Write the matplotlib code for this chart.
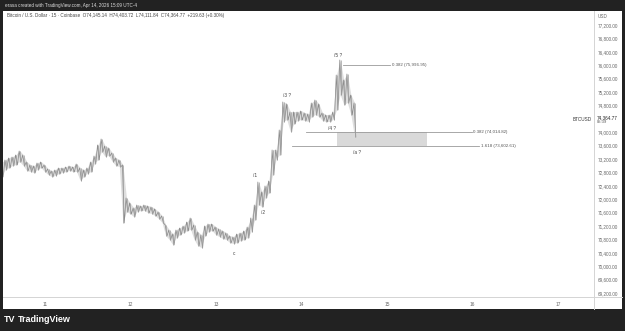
import numpy as np
import matplotlib.pyplot as plt
from matplotlib.patches import Rectangle
from matplotlib.lines import Line2D

plt.rcParams['font.family'] = ['Liberation Sans', 'DejaVu Sans']

# BTCUSD, hourly high/low (Apr 10 12:00 -> Apr 14 15:00)
start_day = 10.5
highs = [73081, 73170, 73230, 73260, 73320, 73439, 73320, 73111, 73021, 72991,
         73081, 73111, 73021, 72902, 72842, 72872, 72932, 72932, 72961, 72991,
         72961, 73051, 72932, 72872, 72932, 73111, 73290, 73618, 73797, 73588,
         73528, 73379, 73230, 73170, 73021, 72036, 71887, 71737, 71827, 71797,
         71827, 71797, 71767, 71708, 71618, 71499, 71230, 71081, 70961, 71081,
         71140, 71200, 71319, 71439, 71230, 71021, 70932, 71200, 71260, 71260,
         71170, 71110, 71051, 70991, 70902, 70872, 70961, 70991, 71051, 71170,
         71439, 71827, 72513, 72215, 72394, 72543, 73469, 73469, 74066, 74902,
         74842, 74603, 74603, 74603, 74633, 74573, 74543, 74872, 74961, 74842,
         74573, 74513, 74513, 74603, 75707, 76155, 75558, 75737, 75110, 74872]
lows = [72663, 72872, 72932, 72991, 73021, 73111, 72991, 72842, 72812, 72782,
        72872, 72932, 72812, 72722, 72663, 72693, 72752, 72782, 72812, 72842,
        72812, 72812, 72543, 72663, 72752, 72812, 73051, 73170, 73409, 73260,
        73290, 73111, 72991, 72961, 71290, 71618, 71558, 71469, 71618, 71648,
        71648, 71588, 71558, 71499, 71409, 71290, 70902, 70782, 70633, 70842,
        70932, 70991, 71051, 71081, 70782, 70603, 70543, 70902, 71021, 71051,
        70932, 70872, 70812, 70782, 70693, 70663, 70693, 70752, 70782, 70842,
        71021, 71379, 71827, 71767, 72036, 72185, 72722, 73170, 73320, 74305,
        74364, 74006, 74245, 74334, 74364, 74334, 74305, 74454, 74513, 74454,
        74334, 74305, 74305, 74364, 74663, 75110, 74812, 74872, 74513, 73857]
last_price = 74364.77

# fib levels
fib_top = 75996.95
box_top = 74014.82
box_bottom = 73602.61

price_ticks = list(range(69200, 77201, 400))
day_ticks = [11, 12, 13, 14, 15, 16, 17]

waves = ['c', '/1', '/2', '/3 ?', '/4 ?', '/5 ?', '/a ?']
wave_pos = [(13.21, 70394), (13.456, 72693), (13.55, 71618), (13.83, 75110),
            (14.357, 74125), (14.427, 76304), (14.649, 73409)]

header = ('Bitcoin / U.S. Dollar · 15 · Coinbase  O74,145.14  H74,403.72  '
          'L74,111.84  C74,364.77  +219.63 (+0.30%)')

W, H = 625, 331
fig = plt.figure(figsize=(W / 100, H / 100), dpi=100, facecolor='#222222')
fig.patches.append(Rectangle((3 / W, 1 - 309 / H), 619 / W, 298 / H,
                             transform=fig.transFigure, facecolor='white', zorder=-5))
ax = fig.add_axes([3 / W, 1 - 297 / H, 591 / W, 286 / H])
ax.set_zorder(2)
ax.patch.set_alpha(0)

t = start_day + np.arange(len(highs)) / 24
ax.fill_between(t, lows, highs, facecolor='#dedede', lw=0)
# bars drawn as a high/low zigzag so it reads like the dense 15m candles
zx = np.column_stack([t - 1 / 96, t + 1 / 96]).ravel()
zy = np.column_stack([highs, lows]).ravel()
ax.plot(zx, zy, color='#8c8c8c', lw=0.55)
ax.vlines(t, lows, highs, color='#a0a0a0', lw=0.5)

# fib lines + box
ax.plot([14.485, 15.035], [fib_top, fib_top], color='#9a9a9a', lw=0.6)
ax.plot([14.053, 15.994], [box_top, box_top], color='#9a9a9a', lw=0.6)
ax.plot([13.889, 16.076], [box_bottom, box_bottom], color='#9a9a9a', lw=0.6)
ax.add_patch(Rectangle((14.415, box_bottom), 15.468 - 14.415, box_top - box_bottom,
                       facecolor='#d9d9d9', edgecolor='none'))
ax.text(15.06, fib_top, f'0.382 ({fib_top:,.2f})', fontsize=3.2, va='center', color='#555')
ax.text(16.006, box_top, f'0.382 ({box_top:,.2f})', fontsize=3.2, va='center', color='#555')
ax.text(16.10, box_bottom, f'1.618 ({box_bottom:,.2f})', fontsize=3.2, va='center', color='#555')

for lab, (x, y) in zip(waves, wave_pos):
    ax.text(x, y, lab, fontsize=3.4, ha='center', va='center', color='#444')

ax.set_xlim(10.509, 17.421)
ax.set_ylim(69081, 77618)
for s in ax.spines.values():
    s.set_visible(False)
ax.yaxis.tick_right()
ax.set_yticks(price_ticks)
# the scale hides the tick label sitting under the last-price label
ax.set_yticklabels(['' if abs(v - last_price) < 200 else f'{v:,.2f}' for v in price_ticks])
ax.set_xticks(day_ticks)
ax.set_xticklabels([str(d) for d in day_ticks])
ax.tick_params(axis='y', length=0, pad=3, labelsize=3.3, labelcolor='#666')
ax.tick_params(axis='x', length=0, pad=3.5, labelsize=3.4, labelcolor='#666')

# last price marker on the scale
ax.text(1.005, last_price, f'{last_price:,.2f}', transform=ax.get_yaxis_transform(),
        fontsize=3.3, va='bottom', color='#222')
ax.text(1.005, last_price, '05:39', transform=ax.get_yaxis_transform(),
        fontsize=3, va='top', color='#555')
ax.text(0.997, last_price, 'BTCUSD', transform=ax.get_yaxis_transform(),
        fontsize=3.3, ha='right', va='center', color='#333')

# pane borders
fig.add_artist(Line2D([594 / W] * 2, [1 - 11 / H, 1 - 309 / H], color='#d4d4d4', lw=0.7))
fig.add_artist(Line2D([3 / W, 622 / W], [1 - 297 / H] * 2, color='#d4d4d4', lw=0.7))

fig.text(5 / W, 1 - 5.5 / H, 'erasa created with TradingView.com, Apr 14, 2026 15:09 UTC-4',
         fontsize=3.3, color='#dddddd', va='center')
fig.text(7 / W, 1 - 16 / H, header, fontsize=3.3, color='#444', va='center')
fig.text(598 / W, 1 - 16 / H, 'USD', fontsize=3.3, color='#666', va='center')
fig.text(4 / W, 1 - 320 / H, 'TV', fontsize=6.5, color='white', weight='bold', va='center')
fig.text(18 / W, 1 - 320 / H, 'TradingView', fontsize=6.5, color='white',
         weight='semibold', va='center')

fig.savefig('out.png', dpi=100, facecolor=fig.get_facecolor())
